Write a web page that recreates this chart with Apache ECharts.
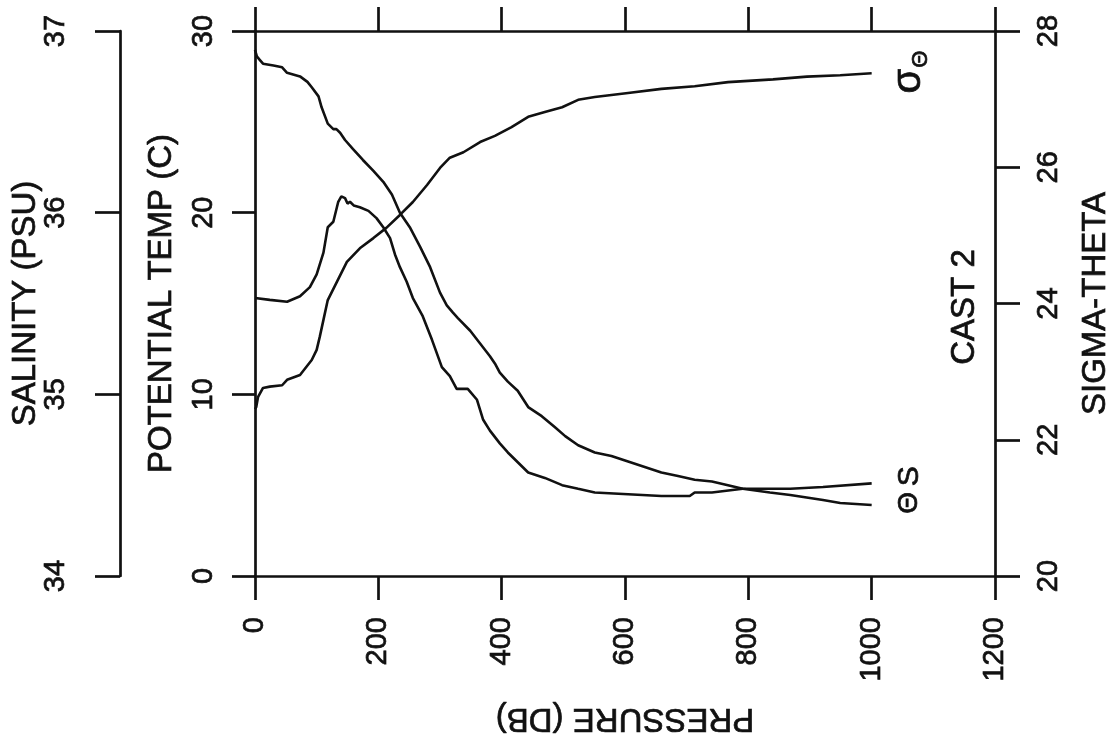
<!DOCTYPE html>
<html><head><meta charset="utf-8">
<script src="https://cdn.jsdelivr.net/npm/echarts@6/dist/echarts.min.js"></script>
<style>html,body{margin:0;padding:0;background:#fff}#c{width:1110px;height:740px}</style>
</head><body><div id="c"></div>
<script>
// Pressure (dbar) and values
const tempP = [0,3,8,13,30,44,52,73,85,92,103,108,118,127,132,138,146,159,175,192,208,222,235,251,268,284,300,311,321,329,349,365,381,389,397,410,426,443,465,486,503,524,551,578,605,632,659,686,713,741,767,791,835,868,921,949,1000];
const tempV = [28.96,28.6,28.4,28.2,28.1,28.0,27.7,27.5,27.2,26.9,26.4,25.8,24.9,24.6,24.6,24.4,24.0,23.5,22.9,22.3,21.7,21.0,20.0,19.2,18.1,17.0,15.6,14.9,14.5,14.2,13.5,12.8,12.1,11.7,11.2,10.7,10.2,9.3,8.8,8.2,7.7,7.2,6.8,6.6,6.3,6.0,5.7,5.5,5.3,5.2,5.0,4.8,4.6,4.46,4.18,4.02,3.91];
const salP = [0,24,52,73,89,100,111,118,127,135,140,146,150,154,160,170,184,197,208,219,227,235,246,256,272,287,303,316,327,345,360,370,381,397,410,443,470,498,524,551,605,659,705,713,741,791,868,921,1000];
const salV = [35.53,35.52,35.51,35.54,35.59,35.66,35.78,35.92,35.95,36.06,36.09,36.08,36.05,36.06,36.04,36.03,36.01,35.97,35.92,35.86,35.77,35.70,35.62,35.53,35.43,35.30,35.15,35.10,35.03,35.03,34.97,34.86,34.80,34.73,34.68,34.57,34.54,34.50,34.48,34.46,34.45,34.44,34.44,34.46,34.46,34.48,34.48,34.49,34.51];
const sigP = [0,2,5,13,24,44,52,73,92,100,105,111,118,133,149,170,192,213,235,256,279,300,316,338,365,389,416,443,470,498,524,551,605,659,713,767,840,895,949,1000];
const sigV = [22.45,22.48,22.63,22.76,22.78,22.80,22.88,22.95,23.17,23.32,23.51,23.76,24.05,24.32,24.61,24.81,24.96,25.11,25.30,25.49,25.74,25.99,26.14,26.22,26.37,26.46,26.59,26.74,26.81,26.88,26.99,27.03,27.09,27.15,27.19,27.25,27.29,27.33,27.35,27.38];

const pressureRange = [0, 1200, 200];
const tempRange = [0, 30, 10];
const salRange = [34, 37, 1];
const sigRange = [20, 28, 2];

const FONT = '"Liberation Sans", Arial, sans-serif';
const INK = '#111';
const zip = (a, b) => a.map((v, i) => [v, b[i]]);

const chart = echarts.init(document.getElementById('c'), null, {renderer: 'canvas'});
const lineAxis = {show: true, onZero: false, lineStyle: {color: INK, width: 2.7}};
const tickOut = (len) => ({show: true, inside: false, length: len, lineStyle: {color: INK, width: 2.7}});
const heavy = {textBorderColor: INK, textBorderWidth: 0.7};
const labelStyle = (margin) => ({show: true, rotate: 90, margin: margin, color: INK, fontSize: 29, fontFamily: FONT,
  ...heavy, showMinLabel: true, showMaxLabel: true, formatter: (v) => String(v)});
const nameStyle = {color: INK, fontSize: 33, fontFamily: FONT, ...heavy};

chart.setOption({
  backgroundColor: '#fff',
  animation: false,
  grid: {left: 255, right: 115, top: 31, bottom: 164, outerBoundsMode: 'none', containLabel: false},
  xAxis: [
    {type: 'value', position: 'bottom', min: pressureRange[0], max: pressureRange[1], interval: pressureRange[2],
     axisLine: lineAxis, axisTick: tickOut(24), axisLabel: labelStyle(41), splitLine: {show: false},
     name: 'PRESSURE (DB)', nameLocation: 'middle', nameRotate: 180, nameGap: 126, nameMoveOverlap: false, nameTextStyle: nameStyle},
    {type: 'value', position: 'top', min: pressureRange[0], max: pressureRange[1], interval: pressureRange[2],
     axisLine: lineAxis, axisTick: tickOut(24), axisLabel: {show: false}, splitLine: {show: false}}
  ],
  yAxis: [
    {type: 'value', position: 'left', min: tempRange[0], max: tempRange[1], interval: tempRange[2],
     axisLine: lineAxis, axisTick: tickOut(23), axisLabel: labelStyle(37), splitLine: {show: false},
     name: 'POTENTIAL TEMP (C)', nameLocation: 'middle', nameRotate: 90, nameGap: 77, nameMoveOverlap: false, nameTextStyle: nameStyle},
    {type: 'value', position: 'left', offset: 135, min: salRange[0], max: salRange[1], interval: salRange[2],
     axisLine: lineAxis, axisTick: tickOut(25), axisLabel: labelStyle(50), splitLine: {show: false},
     name: 'SALINITY (PSU)', nameLocation: 'middle', nameRotate: 90, nameGap: 78, nameMoveOverlap: false, nameTextStyle: nameStyle},
    {type: 'value', position: 'right', min: sigRange[0], max: sigRange[1], interval: sigRange[2],
     axisLine: lineAxis, axisTick: tickOut(25), axisLabel: labelStyle(39), splitLine: {show: false},
     name: 'SIGMA-THETA', nameLocation: 'middle', nameRotate: 90, nameGap: 84, nameMoveOverlap: false, nameTextStyle: nameStyle}
  ],
  series: [
    {name: 'Θ', type: 'line', xAxisIndex: 0, yAxisIndex: 0, data: zip(tempP, tempV), showSymbol: false, symbol: 'none',
     lineStyle: {color: INK, width: 2.6}, z: 3},
    {name: 'S', type: 'line', xAxisIndex: 0, yAxisIndex: 1, data: zip(salP, salV), showSymbol: false, symbol: 'none',
     lineStyle: {color: INK, width: 2.6}, z: 3},
    {name: 'σΘ', type: 'line', xAxisIndex: 0, yAxisIndex: 2, data: zip(sigP, sigV), showSymbol: false, symbol: 'none',
     lineStyle: {color: INK, width: 2.6}, z: 3}
  ]
});

// Curve labels placed next to each curve's last point
function endPx(yIdx, p, v) { return chart.convertToPixel({xAxisIndex: 0, yAxisIndex: yIdx}, [p, v]); }
const tEnd = endPx(0, tempP[tempP.length-1], tempV[tempV.length-1]);
const sEnd = endPx(1, salP[salP.length-1], salV[salV.length-1]);
const gEnd = endPx(2, sigP[sigP.length-1], sigV[sigV.length-1]);
const txt = (x, y, text, size) => ({type: 'text', x: x, y: y, rotation: Math.PI / 2,
  style: {text: text, fill: INK, fontSize: size, fontFamily: FONT, align: 'center', verticalAlign: 'middle',
          stroke: INK, lineWidth: 0.7}, z: 10});
chart.setOption({
  graphic: [
    txt(tEnd[0] + 38, tEnd[1] - 2, 'Θ', 28),
    txt(sEnd[0] + 38, sEnd[1] - 7, 'S', 30),
    txt(gEnd[0] + 37, gEnd[1] + 8, 'σ', 40),
    txt(gEnd[0] + 49, gEnd[1] - 14, 'Θ', 22),
    txt(965, 307, 'CAST 2', 33)
  ]
});
</script>
</body></html>
